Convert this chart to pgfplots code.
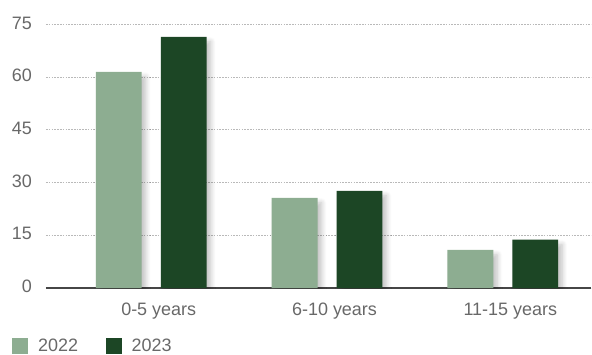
\documentclass[border=0pt]{standalone}
\usepackage{pgfplots}
\pgfplotsset{compat=1.18}
\usepackage{fontspec}
\setmainfont{Liberation Sans}
\usetikzlibrary{shadows.blur}

\definecolor{light}{RGB}{141,173,145}
\definecolor{dark}{RGB}{28,70,37}
\definecolor{txt}{RGB}{104,104,104}
\definecolor{axisgray}{RGB}{70,70,70}
\definecolor{gridgray}{RGB}{185,185,185}

\begin{document}
\begin{tikzpicture}
\begin{axis}[
  scale only axis,
  width=546pt, height=264pt,
  xmin=-0.599, xmax=2.503,
  ymin=0, ymax=75,
  ytick={0,15,30,45,60,75},
  xtick={0,1,2},
  xticklabels={0-5 years,6-10 years,11-15 years},
  major tick length=0pt,
  axis x line=bottom,
  axis y line=left,
  x axis line style={-, draw=axisgray, line width=1.5pt},
  y axis line style={draw=none},
  ymajorgrids,
  grid style={dash pattern=on 1.6pt off 1.2pt, draw=gridgray, line width=0.9pt},
  tick label style={font=\fontsize{18}{21}\selectfont, text=txt},
  /pgf/number format/assume math mode=true,
  yticklabel style={inner sep=0pt, anchor=east, xshift=-14pt, yshift=1.5pt},
  xticklabel style={inner sep=0pt, anchor=north, yshift=-14.5pt, xshift=7.5pt},
  ybar,
  bar width=0.261,
  legend columns=2,
  legend style={
    at={(-0.0623,-0.252)}, anchor=south west,
    draw=none, fill=none, inner sep=0pt,
    nodes={inner sep=0pt, text=txt, font=\fontsize{18}{21}\selectfont},
    /tikz/every odd column/.append style={column sep=10pt},
    /tikz/every even column/.append style={column sep=27.5pt},
  },
  legend image code/.code={\fill[#1] (0pt,-8pt) rectangle (16pt,8pt);},
]
\addlegendimage{fill=light, draw=none}
\addlegendentry{2022}
\addlegendimage{fill=dark, draw=none}
\addlegendentry{2023}

\addplot[forget plot, fill=light, draw=none, bar shift=-0.1847,
  blur shadow={shadow xshift=4pt, shadow yshift=-5pt, shadow opacity=25, shadow blur radius=5pt, shadow blur steps=8}]
  coordinates {(0,61.5) (1,25.7) (2,10.9)};
\addplot[forget plot, fill=dark, draw=none, bar shift=0.1847,
  blur shadow={shadow xshift=4pt, shadow yshift=-5pt, shadow opacity=25, shadow blur radius=5pt, shadow blur steps=8}]
  coordinates {(0,71.5) (1,27.7) (2,13.8)};
\end{axis}
\useasboundingbox (-46pt,-66.5pt) rectangle (546pt,288.5pt);
\end{tikzpicture}
\end{document}
